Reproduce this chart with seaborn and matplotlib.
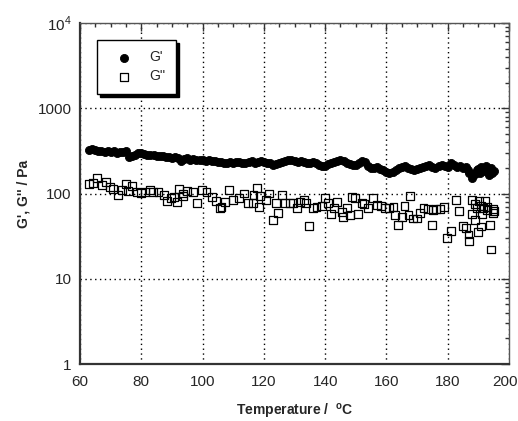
import matplotlib
matplotlib.use("Agg")
import matplotlib.pyplot as plt
import matplotlib.ticker as mticker
import matplotlib.transforms as mtransforms
import seaborn as sns
import pandas as pd

# ---- data ----
temp_gp = [63, 64, 65, 66, 67, 68, 69, 70, 71, 72, 73, 74, 75, 76, 77, 78, 79, 80,
           81, 82, 83, 84, 85, 86, 87, 88, 89, 90, 91, 92, 93, 94, 95, 96, 97, 98,
           99, 100, 101, 102, 103, 104, 105, 106, 107, 108, 109, 110, 111, 112, 113,
           114, 115, 116, 117, 118, 119, 120, 121, 122, 123, 124, 125, 126, 127, 128,
           129, 130, 131, 132, 133, 134, 135, 136, 137, 138, 139, 140, 141, 142, 143,
           144, 145, 146, 147, 148, 149, 150, 151, 152, 153, 154, 155, 156, 157, 158,
           159, 160, 161, 162, 163, 164, 165, 166, 167, 168, 169, 170, 171, 172, 173,
           174, 175, 176, 177, 178, 179, 180, 181, 182, 183, 184, 185, 186, 186.5, 187,
           188, 188.5, 189, 189.5, 190, 190.5, 191, 191.5, 192, 192.5, 193, 193.5, 194,
           194.5, 195]
g_storage = [325, 330, 320, 315, 318, 310, 312, 305, 315, 300, 310, 305, 312, 268, 275,
             285, 295, 300, 290, 285, 280, 283, 275, 272, 278, 268, 270, 262, 265, 258,
             240, 255, 262, 250, 255, 245, 248, 250, 242, 245, 238, 240, 235, 232, 226,
             230, 235, 228, 232, 236, 230, 226, 232, 238, 230, 235, 240, 232, 228, 225,
             218, 222, 228, 235, 242, 250, 245, 238, 235, 240, 236, 230, 226, 232, 225,
             215, 208, 212, 220, 228, 235, 240, 245, 238, 228, 222, 218, 215, 225, 240,
             235, 210, 200, 198, 205, 195, 188, 178, 175, 180, 190, 198, 205, 208, 200,
             195, 190, 192, 198, 205, 212, 218, 205, 200, 210, 218, 212, 205, 225, 215,
             205, 212, 198, 205, 190, 175, 150, 170, 168, 190, 195, 175, 205, 185, 200,
             210, 180, 165, 198, 175, 185]

temp_gpp = [62.9, 64.3, 65.6, 67.1, 68.5, 69.8, 70.9, 72.5, 73.6, 75.0, 75.8, 76.9, 78.5,
            79.8, 81.2, 82.8, 83.9, 85.6, 87.4, 88.5, 89.6, 90.7, 91.6, 92.4, 93.5, 93.7,
            95.0, 96.8, 98.1, 99.7, 101.3, 103.0, 104.4, 105.7, 106.2, 107.3, 108.7,
            110.0, 112.0, 113.5, 114.9, 116.4, 116.6, 117.9, 118.3, 118.7, 120.7, 121.8,
            122.9, 124.0, 124.7, 125.8, 126.9, 128.5, 129.6, 130.9, 131.8, 133.1, 133.8,
            134.8, 135.9, 137.2, 138.9, 140.0, 141.0, 141.8, 142.9, 143.8, 145.4, 145.7,
            147.0, 148.1, 148.7, 149.7, 150.8, 151.9, 152.6, 154.1, 155.7, 156.8, 158.1,
            159.5, 160.9, 162.3, 162.8, 163.9, 165.0, 165.9, 167.2, 167.7, 168.8, 169.9,
            171.0, 172.1, 173.7, 174.8, 175.2, 176.2, 177.5, 178.8, 179.9, 181.0, 182.7,
            183.8, 185.1, 186.0, 186.8, 186.9, 187.8, 187.9, 188.9, 189.0, 189.4, 190.0,
            190.1, 190.8, 191.0, 191.1, 191.6, 192.2, 192.7, 193.0, 193.8, 194.0, 194.7,
            194.8, 195.0]
g_loss = [128, 134, 151, 126, 138, 120, 113, 96, 110, 129, 107, 123, 103,
          101, 103, 110, 105, 105, 96, 82, 89, 92, 80, 112, 94, 100,
          107, 103, 78, 110, 103, 92, 82, 68, 70, 80, 110,
          84, 89, 100, 77, 77, 97, 117, 70, 94, 84, 100,
          49, 77, 59, 97, 77, 77, 77, 67, 80, 84, 77,
          42, 68, 70, 72, 89, 77, 57, 68, 80, 61, 53,
          67, 56, 91, 89, 57, 77, 75, 67, 88, 73, 72,
          68, 68, 70, 56, 43, 53, 72, 56, 94, 51, 51,
          59, 68, 66, 43, 64, 66, 66, 70, 30, 36, 84,
          62, 42, 39, 33, 28, 84, 57, 49, 75, 67, 35,
          82, 41, 72, 57, 68, 82, 64, 70, 43, 22, 66,
          59, 62]

x_ticks = [60, 80, 100, 120, 140, 160, 180, 200]
y_ticks = [1, 10, 100, 1000, 10000]
y_tick_labels = ["1", "10", "100", "1000", "$10^4$"]

df_gp = pd.DataFrame({"T": temp_gp, "G": g_storage})
df_gpp = pd.DataFrame({"T": temp_gpp, "G": g_loss})

# ---- figure ----
sns.set_theme(style="white")
plt.rcParams["font.family"] = ["Liberation Sans", "DejaVu Sans"]
plt.rcParams["mathtext.fontset"] = "custom"
plt.rcParams["mathtext.rm"] = "Liberation Sans"

fig = plt.figure(figsize=(5.18, 4.21), dpi=100)
ax = fig.add_axes([80 / 518, 1 - 364 / 421, 429 / 518, 341 / 421])

sns.scatterplot(data=df_gp, x="T", y="G", ax=ax, marker="o", color="black",
                s=34, edgecolor="black", linewidth=0.6, label="G'", zorder=3)
sns.scatterplot(data=df_gpp, x="T", y="G", ax=ax, marker="s", facecolors="none",
                edgecolor="black", s=32, linewidth=0.9, label="G''", zorder=3)

ax.set_yscale("log")
ax.set_xlim(60, 200)
ax.set_ylim(1, 10000)
ax.set_xticks(x_ticks)
ax.set_xticklabels([str(t) for t in x_ticks])
ax.set_yticks(y_ticks)
ax.set_yticklabels(y_tick_labels)
ax.xaxis.set_minor_locator(mticker.MultipleLocator(5))
ax.yaxis.set_minor_locator(mticker.LogLocator(base=10, subs=range(2, 10), numticks=20))
ax.yaxis.set_minor_formatter(mticker.NullFormatter())

ax.tick_params(axis="both", which="major", direction="in", length=6, width=1,
               labelsize=11, top=True, right=True, color="#333333", pad=8)
ax.tick_params(axis="y", which="major", pad=6)
ax.tick_params(axis="both", which="minor", direction="in", length=3, width=1,
               top=True, right=True, color="#333333")

# keep the last x tick label inside the canvas
last_lbl = ax.get_xticklabels()[-1]
last_lbl.set_transform(last_lbl.get_transform() +
                       mtransforms.ScaledTranslation(-4 / 100, 0, fig.dpi_scale_trans))

ax.grid(True, which="major", color="black", linestyle=(0, (1, 2.5)), linewidth=1)

for side in ["left", "bottom"]:
    ax.spines[side].set_linewidth(1.6)
    ax.spines[side].set_color("#333333")
for side in ["top", "right"]:
    ax.spines[side].set_linewidth(1.0)
    ax.spines[side].set_color("#555555")

ax.set_xlabel("Temperature /  $^{\\mathregular{o}}$C", fontsize=10, fontweight="bold", labelpad=9)
ax.set_ylabel("G', G'' / Pa", fontsize=10, fontweight="bold", labelpad=5)

leg = ax.legend(loc="upper left", bbox_to_anchor=(0.04, 0.95), frameon=True,
                fancybox=False, edgecolor="black", fontsize=10,
                shadow={"color": "black", "alpha": 1.0}, borderpad=0.75,
                handlelength=2.4, handletextpad=0.6, labelspacing=0.35,
                borderaxespad=0)
leg.get_frame().set_linewidth(1.0)
leg.get_frame().set_facecolor("white")

fig.savefig("out.png", dpi=100)
